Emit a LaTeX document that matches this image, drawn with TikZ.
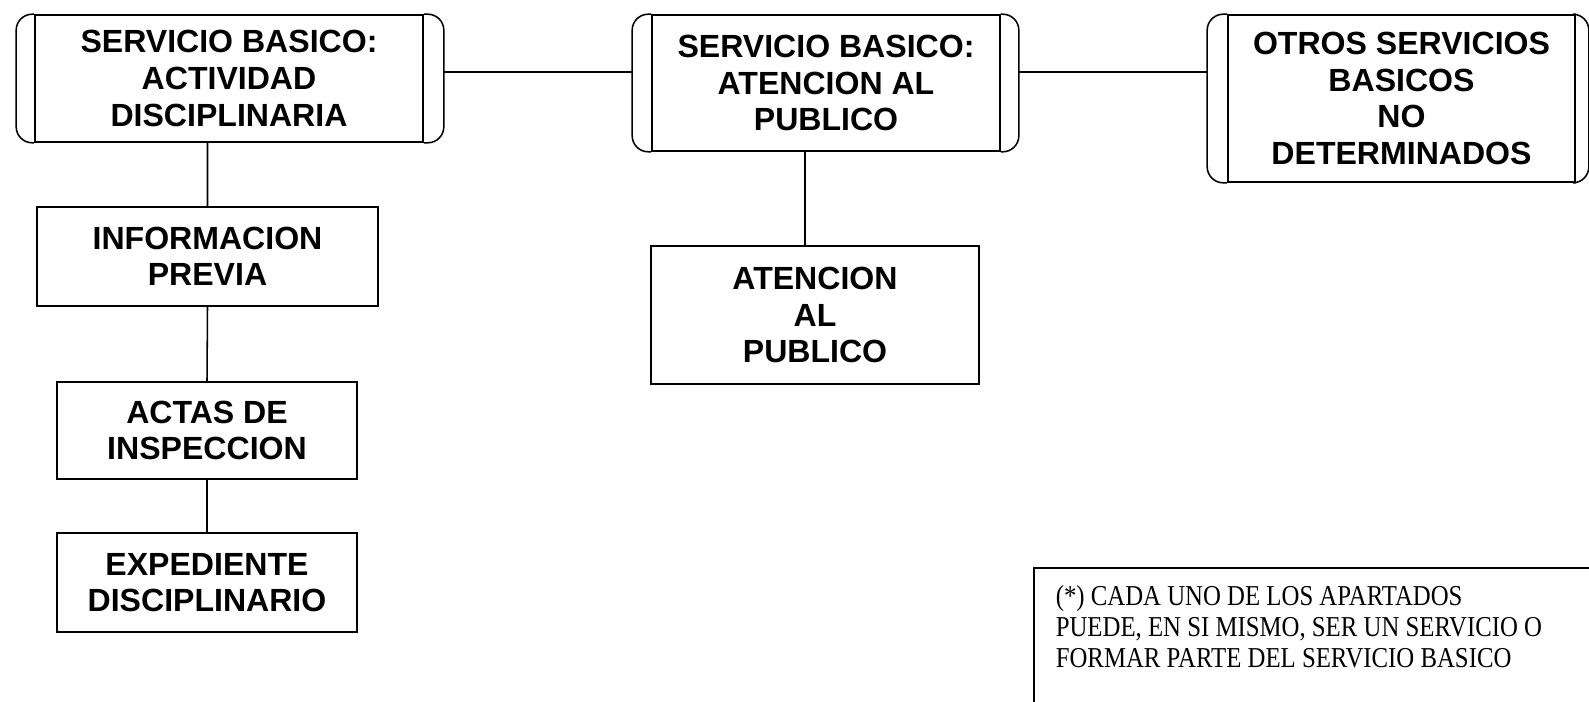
\documentclass[tikz,border=0pt]{standalone}
\usepackage{fontspec}
\setmainfont{Liberation Serif}
\setsansfont{Liberation Sans}
\newfontfamily\notafont[FakeStretch=0.86]{Liberation Serif}

\tikzset{
  caja/.style={draw, align=center, inner sep=0pt,
    font=\sffamily\bfseries\fontsize{22.8}{26}\selectfont},
  nota/.style={align=left, inner sep=0pt,
    font=\notafont\fontsize{20.5}{22}\selectfont},
}
% orejas redondeadas a ambos lados de una caja
\newcommand{\orejas}[3]{%
  \draw [rounded corners=0.4cm] (#1.north west) -- ++(-#2,0) |- (#1.south west);
  \draw [rounded corners=0.4cm] (#1.north east) -- ++(#3,0) |- (#1.south east);
}

\begin{document}
\begin{tikzpicture}[x=0.025cm, y=-0.025cm, line width=1.1pt]
\useasboundingbox (0,0) rectangle (1589,702);
\clip (0,0) rectangle (1589,702);

\node [caja, minimum width=9.7cm, minimum height=3.175cm] (act) at (229,78.5) {SERVICIO BASICO:\\ACTIVIDAD\\DISCIPLINARIA};
\node [caja, minimum width=8.7cm, minimum height=3.4cm] (aten) at (826,83) {SERVICIO BASICO:\\ATENCION AL\\PUBLICO};
\node [caja, minimum width=8.675cm, minimum height=4.175cm] (otros) at (1401.5,98.5) {OTROS SERVICIOS\\BASICOS\\NO\\DETERMINADOS};
\orejas{act}{18}{20}
\orejas{aten}{19}{18}
\orejas{otros}{20}{13}

\node [caja, minimum width=8.525cm, minimum height=2.475cm] (info) at (207.5,256.5) {INFORMACION\\PREVIA};
\node [caja, minimum width=7.5cm, minimum height=2.425cm] (actas) at (207,430.5) {ACTAS DE\\INSPECCION};
\node [caja, minimum width=7.5cm, minimum height=2.475cm] (exped) at (207,582.5) {EXPEDIENTE\\DISCIPLINARIO};
\node [caja, minimum width=8.2cm, minimum height=3.45cm] (publ) at (815,315) {ATENCION\\AL\\PUBLICO};

\coordinate (act-e) at (443,72);
\coordinate (aten-w) at (633,72);
\coordinate (aten-e) at (1018,72);
\coordinate (otros-w) at (1208,72);
\coordinate (aten-s) at (805,151);

\draw (act-e) -- (aten-w) (aten-e) -- (otros-w);
\draw (info.north |- act.south) -- (info.north) (info.south) -- (actas.north) (actas.south) -- (exped.north);
\draw (aten-s) -- (aten-s |- publ.north);

% nota al pie
\draw (1034,568) rectangle (1620,760);
\node [nota, anchor=north west] (nota) at (1055,585) {(*) CADA UNO DE LOS APARTADOS\\PUEDE, EN SI MISMO, SER UN SERVICIO O\\FORMAR PARTE DEL SERVICIO BASICO};

\end{tikzpicture}
\end{document}
